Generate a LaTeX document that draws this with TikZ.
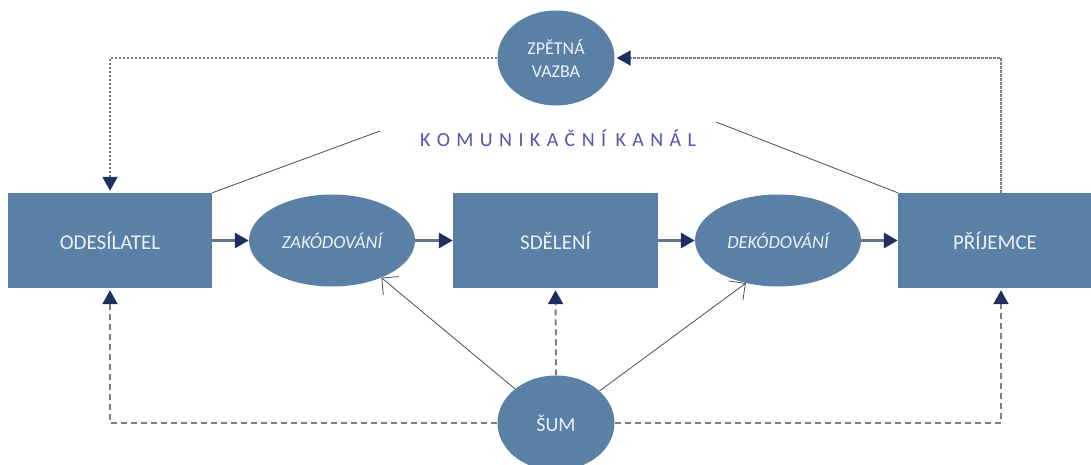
\documentclass[tikz,border=0pt]{standalone}
\usepackage{fontspec}
\setmainfont{Carlito}
\usetikzlibrary{shapes.geometric,arrows.meta}
\definecolor{boxblue}{RGB}{90,128,165}
\definecolor{boxtext}{RGB}{234,241,248}
\definecolor{navy}{RGB}{32,45,95}
\definecolor{conn}{RGB}{105,115,135}
\definecolor{dashc}{RGB}{125,125,140}
\definecolor{kanal}{RGB}{80,85,175}
\definecolor{thinc}{RGB}{70,75,95}
\newcommand\ks{\hspace{6.4pt}}
\tikzset{
  navytip/.tip={Triangle[length=14pt,width=15pt,color=navy]},
  boxnode/.style={rectangle, fill=boxblue, text=boxtext, minimum width=#1,
    minimum height=95pt, inner sep=0pt, font=\fontsize{21}{24}\selectfont},
  ellnode/.style={ellipse, fill=boxblue, text=boxtext, minimum width=166pt,
    minimum height=92pt, inner sep=0pt, font=\fontsize{18.5}{21}\selectfont\itshape},
  circnode/.style={ellipse, fill=boxblue, text=boxtext, minimum width=117pt,
    minimum height=95pt, inner sep=0pt, align=center},
  flow/.style={draw=conn, line width=3pt, -navytip},
  fb/.style={draw=dashc, line width=2pt, dash pattern=on 2.5pt off 1.5pt, -navytip, shorten >=2pt},
  noise/.style={draw=dashc, line width=2pt, dash pattern=on 6pt off 4pt, -navytip, shorten >=2pt},
  thinln/.style={draw=thinc, line width=0.8pt},
  barb/.style={thinln, -{Straight Barb[angle=90:17pt]}},
}
\begin{document}
\begin{tikzpicture}[x=1pt,y=-1pt]
\useasboundingbox (0,0) rectangle (1091,465);
% nodes
\node[boxnode=204pt] (ode) at (110,240.5) {ODESÍLATEL};
\node[ellnode] (zak) at (332,240.5) {ZAKÓDOVÁNÍ};
\node[boxnode=205pt] (sde) at (555.5,240.5) {SDĚLENÍ};
\node[ellnode] (dek) at (778,240.5) {DEKÓDOVÁNÍ};
\node[boxnode=194pt] (pri) at (995,240.5) {PŘÍJEMCE};
\node[circnode, font=\fontsize{18}{23}\selectfont] (zpv) at (556,58) {ZPĚTNÁ\\VAZBA};
\node[circnode, font=\fontsize{20}{22}\selectfont] (sum) at (556,423) {ŠUM};
\node[text=kanal, inner sep=0pt, font=\fontsize{20}{23}\selectfont] (kan) at (558,138)
  {K\ks O\ks M\ks U\ks N\ks I\ks K\ks A\ks Č\ks N\ks Í\ks\hspace{3pt}K\ks A\ks N\ks Á\ks L};
\coordinate (kl) at (380,131);
\coordinate (kr) at (716,122);
% main flow
\draw[flow] (ode.east) -- (zak.west);
\draw[flow] (zak.east) -- (sde.west);
\draw[flow] (sde.east) -- (dek.west);
\draw[flow] (dek.east) -- (pri.west);
% feedback
\draw[fb] ([xshift=6pt]pri.north) |- (zpv.east);
\draw[fb] (zpv.west) -| (ode.north);
% noise
\draw[noise] (sum.west) -| (ode.south);
\draw[noise] (sum.east) -| ([xshift=6pt]pri.south);
\draw[noise] (sum.north) -- (sde.south);
\draw[barb] (sum) -- (zak.-37);
\draw[barb] (sum) -- (dek.-127);
% channel
\draw[thinln] (ode.north east) -- (kl);
\draw[thinln] (pri.north west) -- (kr);
\end{tikzpicture}
\end{document}
